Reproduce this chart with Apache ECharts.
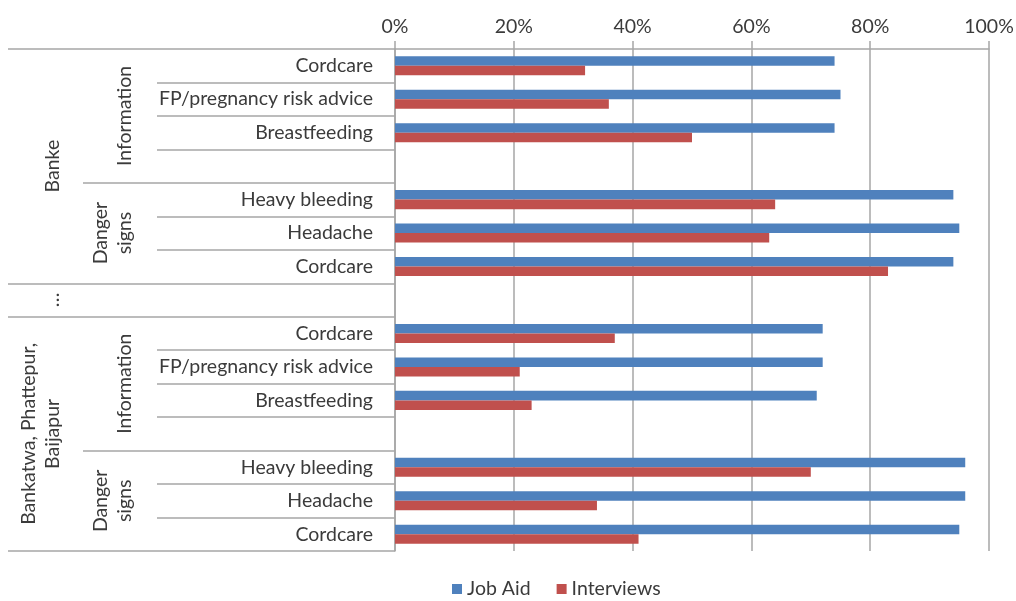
<!DOCTYPE html>
<html>
<head>
<meta charset="utf-8">
<script src="https://cdn.jsdelivr.net/npm/echarts@6/dist/echarts.min.js"></script>
<style>
  html, body { margin: 0; padding: 0; background: #fff; }
  #chart { width: 1016px; height: 601px; }
</style>
</head>
<body>
<div id="chart"></div>
<script>
// Row labels, top to bottom (blank rows separate the groups)
const leafLabels = [
  'Cordcare', 'FP/pregnancy risk advice', 'Breastfeeding', '',
  'Heavy bleeding', 'Headache', 'Cordcare',
  '',
  'Cordcare', 'FP/pregnancy risk advice', 'Breastfeeding', '',
  'Heavy bleeding', 'Headache', 'Cordcare'
];

// Share of items covered (%), per row
const jobAid     = [74, 75, 74, null, 94, 95, 94, null, 72, 72, 71, null, 96, 96, 95];
const interviews = [32, 36, 50, null, 64, 63, 83, null, 37, 21, 23, null, 70, 34, 41];

// Middle level: topic groups (first row, number of rows)
const topicNames  = ['Information', 'Danger\nsigns', 'Information', 'Danger\nsigns'];
const topicStarts = [0, 4, 8, 12];
const topicSpans  = [4, 3, 4, 3];

// Outer level: district groups
const regionNames  = ['Banke', '…', 'Bankatwa, Phattepur,\nBaijapur'];
const regionStarts = [0, 7, 8];
const regionSpans  = [7, 1, 7];

const xTicks = [0, 20, 40, 60, 80, 100];

const FONT = 'Lato';
const TEXT = '#3b3b3b';
const LINE = '#a6a6a6';
const rowCount = leafLabels.length;

// Helper axes on half-row points: index 2*r is the top edge of row r,
// index 2*r+1 its centre. Group labels sit at group centres, ticks at group edges.
function halfRowAxis(names, starts, spans) {
  const labels = new Array(rowCount * 2 + 1).fill('');
  const edges = new Set();
  names.forEach((n, i) => {
    labels[starts[i] * 2 + spans[i]] = n;
    edges.add(starts[i] * 2);
    edges.add((starts[i] + spans[i]) * 2);
  });
  // category values must be distinct; the drawn text comes from labels[]
  const values = labels.map((v, i) => 'p' + i);
  return { values, labels, edges };
}
const topicAxis = halfRowAxis(topicNames, topicStarts, topicSpans);
const regionAxis = halfRowAxis(regionNames, regionStarts, regionSpans);

const chart = echarts.init(document.getElementById('chart'), null, { renderer: 'canvas' });

chart.setOption({
  backgroundColor: '#ffffff',
  animation: false,
  textStyle: { fontFamily: FONT },
  grid: {
    left: 395, right: 27, top: 49, bottom: 50,
    containLabel: false, outerBoundsMode: 'none'
  },
  legend: {
    left: 447, top: 574,
    icon: 'rect', itemWidth: 10, itemHeight: 10, itemGap: 26,
    textStyle: { fontFamily: FONT, fontSize: 19.5, color: TEXT },
    data: ['Job Aid', 'Interviews']
  },
  xAxis: {
    type: 'value', position: 'top',
    min: xTicks[0], max: xTicks[xTicks.length - 1], interval: xTicks[1] - xTicks[0],
    axisLine: { show: true, lineStyle: { color: LINE, width: 1.5 } },
    axisTick: { show: true, length: 8, lineStyle: { color: LINE, width: 1.5 } },
    splitLine: { show: true, lineStyle: { color: LINE, width: 1.5 } },
    axisLabel: { formatter: '{value}%', fontFamily: FONT, fontSize: 19.5, color: TEXT, margin: 12 }
  },
  yAxis: [
    {
      type: 'category', position: 'left', inverse: true, data: leafLabels,
      axisLine: { show: true, lineStyle: { color: LINE, width: 1.5 } },
      axisTick: { show: true, length: 238, interval: 0, lineStyle: { color: LINE, width: 1.5 } },
      axisLabel: { interval: 0, fontFamily: FONT, fontSize: 19.5, color: TEXT, margin: 22 },
      splitLine: { show: false }
    },
    {
      type: 'category', position: 'left', offset: 0, inverse: true, boundaryGap: false,
      data: topicAxis.values,
      axisLine: { show: false },
      axisTick: {
        show: true, length: 312, lineStyle: { color: LINE, width: 1.5 },
        interval: (i) => topicAxis.edges.has(i)
      },
      axisLabel: {
        interval: 0, rotate: 90, margin: 258, lineHeight: 24,
        fontFamily: FONT, fontSize: 19.5, color: TEXT,
        formatter: (v, i) => topicAxis.labels[i]
      },
      splitLine: { show: false }
    },
    {
      type: 'category', position: 'left', offset: 0, inverse: true, boundaryGap: false,
      data: regionAxis.values,
      axisLine: { show: false },
      axisTick: {
        show: true, length: 387, lineStyle: { color: LINE, width: 1.5 },
        interval: (i) => regionAxis.edges.has(i)
      },
      axisLabel: {
        interval: 0, rotate: 90, margin: 330, lineHeight: 24,
        fontFamily: FONT, fontSize: 19.5, color: TEXT,
        formatter: (v, i) => regionAxis.labels[i]
      },
      splitLine: { show: false }
    }
  ],
  series: [
    {
      name: 'Job Aid', type: 'bar', yAxisIndex: 0, data: jobAid,
      itemStyle: { color: '#4F81BD' },
      barGap: '0%', barCategoryGap: '43%'
    },
    {
      name: 'Interviews', type: 'bar', yAxisIndex: 0, data: interviews,
      itemStyle: { color: '#C0504D' },
      barGap: '0%', barCategoryGap: '43%'
    }
  ]
});
</script>
</body>
</html>
